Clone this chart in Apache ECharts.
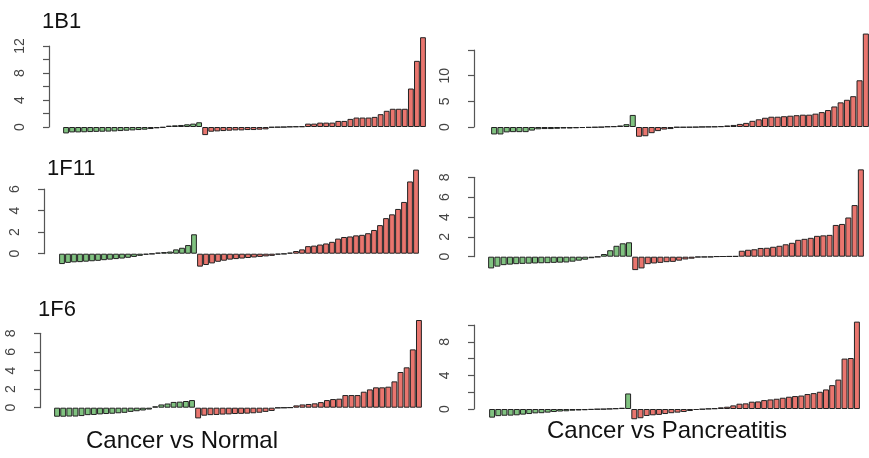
<!DOCTYPE html>
<html><head><meta charset="utf-8">
<script src="https://cdn.jsdelivr.net/npm/echarts@6/dist/echarts.min.js"></script>
<style>html,body{margin:0;padding:0;background:#fff}#c{width:869px;height:458px}</style>
</head><body><div id="c"></div>
<script>
// ---- data ----
const panelTitles = ['1B1', '1F11', '1F6'];
const comparisonLabels = ['Cancer vs Normal', 'Cancer vs Pancreatitis'];

// 1B1, Cancer vs Normal
const b1NormalGreen = [-0.95,-0.8,-0.8,-0.78,-0.75,-0.72,-0.7,-0.68,-0.65,-0.6,-0.55,-0.5,-0.45,-0.4,-0.3,-0.2,-0.1,0.2,0.25,0.3,0.4,0.5,0.7];
const b1NormalRed = [-1.2,-0.7,-0.65,-0.6,-0.55,-0.5,-0.5,-0.45,-0.45,-0.4,-0.35,-0.08,-0.05,-0.02,0.05,0.08,0.1,0.5,0.5,0.65,0.65,0.65,0.9,0.9,1.2,1.4,1.4,1.4,1.5,1.9,2.4,2.7,2.7,2.7,5.7,9.8,13.3];
// 1B1, Cancer vs Pancreatitis
const b1PancGreen = [-1.45,-1.45,-1.05,-1.0,-1.0,-1.0,-0.7,-0.45,-0.4,-0.4,-0.35,-0.3,-0.3,-0.25,-0.2,-0.15,-0.1,-0.05,0.1,0.15,0.3,0.55,2.35];
const b1PancRed = [-1.9,-1.8,-1.2,-0.8,-0.5,-0.4,-0.1,-0.1,-0.08,-0.05,0.02,0.05,0.08,0.15,0.3,0.4,0.6,0.8,1.2,1.5,1.8,2.0,2.0,2.1,2.2,2.3,2.4,2.4,2.6,2.9,3.3,4.0,4.8,5.3,6.0,9.1,18.2];
// 1F11, Cancer vs Normal
const f11NormalGreen = [-0.96,-0.85,-0.8,-0.78,-0.74,-0.7,-0.66,-0.6,-0.55,-0.5,-0.45,-0.38,-0.3,-0.2,-0.1,-0.03,0.1,0.15,0.2,0.4,0.55,0.8,1.8];
const f11NormalRed = [-1.2,-1.05,-0.9,-0.75,-0.65,-0.55,-0.5,-0.45,-0.4,-0.35,-0.3,-0.25,-0.2,-0.08,-0.03,0.1,0.25,0.4,0.7,0.75,0.85,0.95,1.1,1.4,1.55,1.6,1.7,1.75,1.9,2.2,2.65,3.3,3.65,4.15,4.8,6.7,7.8];
// 1F11, Cancer vs Pancreatitis
const f11PancGreen = [-1.18,-1.0,-0.85,-0.8,-0.75,-0.72,-0.7,-0.68,-0.66,-0.65,-0.62,-0.6,-0.58,-0.5,-0.4,-0.3,-0.15,-0.03,0.27,0.65,1.1,1.35,1.45];
const f11PancRed = [-1.35,-1.18,-0.75,-0.68,-0.62,-0.55,-0.52,-0.4,-0.28,-0.2,-0.06,-0.05,-0.04,0.03,0.04,0.05,0.06,0.6,0.7,0.75,0.88,0.9,1.0,1.1,1.25,1.4,1.7,1.8,1.9,2.1,2.15,2.2,3.2,3.3,3.95,5.2,8.8];
// 1F6, Cancer vs Normal
const f6NormalGreen = [-0.97,-0.97,-0.95,-0.95,-0.9,-0.8,-0.78,-0.72,-0.68,-0.65,-0.6,-0.55,-0.45,-0.38,-0.3,-0.2,0.15,0.35,0.45,0.62,0.65,0.72,0.82];
const f6NormalRed = [-1.15,-0.86,-0.8,-0.78,-0.74,-0.72,-0.68,-0.66,-0.64,-0.6,-0.54,-0.45,-0.35,-0.03,-0.01,0.02,0.25,0.35,0.4,0.47,0.6,0.82,0.93,0.97,1.36,1.36,1.36,1.72,1.97,2.19,2.19,2.26,2.83,3.84,4.34,6.27,9.43];
// 1F6, Cancer vs Pancreatitis
const f6PancGreen = [-1.03,-0.85,-0.8,-0.79,-0.75,-0.67,-0.6,-0.52,-0.5,-0.43,-0.36,-0.3,-0.27,-0.2,-0.18,-0.15,-0.1,-0.05,-0.03,0.02,0.08,0.15,1.85];
const f6PancRed = [-1.22,-1.1,-0.83,-0.75,-0.7,-0.6,-0.5,-0.43,-0.36,-0.24,-0.12,-0.05,0.03,0.08,0.2,0.27,0.43,0.63,0.67,0.87,0.9,1.06,1.14,1.22,1.34,1.46,1.54,1.6,1.78,1.89,2.05,2.33,2.84,3.5,6.0,6.07,10.4];

// y-axis tick labels shown per panel
const b1NormalLabels = [0, 4, 8, 12];
const b1PancLabels = [0, 5, 10];
const f11NormalLabels = [0, 2, 4, 6];
const f11PancLabels = [0, 2, 4, 6, 8];
const f6NormalLabels = [0, 2, 4, 6, 8];
const f6PancLabels = [0, 4, 8];

// ---- layout ----
const GREEN = '#80c280';
const RED = '#e9756e';
const panels = [
  {green: b1NormalGreen, red: b1NormalRed, labels: b1NormalLabels, max: 12, interval: 2, left: 63, top: 46, width: 363, height: 81, axisX: 49},
  {green: b1PancGreen, red: b1PancRed, labels: b1PancLabels, max: 15, interval: 5, left: 491, top: 50, width: 382, height: 77, axisX: 474},
  {green: f11NormalGreen, red: f11NormalRed, labels: f11NormalLabels, max: 6, interval: 2, left: 59, top: 189, width: 360, height: 64.7, axisX: 44},
  {green: f11PancGreen, red: f11PancRed, labels: f11PancLabels, max: 8, interval: 2, left: 488, top: 177.3, width: 376, height: 79.4, axisX: 474},
  {green: f6NormalGreen, red: f6NormalRed, labels: f6NormalLabels, max: 8, interval: 2, left: 54, top: 333.3, width: 368, height: 74.4, axisX: 40},
  {green: f6PancGreen, red: f6PancRed, labels: f6PancLabels, max: 10, interval: 2, left: 489, top: 325, width: 371, height: 84, axisX: 474}
];

const FONT = 'Liberation Sans, Arial, sans-serif';
const chart = echarts.init(document.getElementById('c'), null, {renderer: 'canvas'});

const grids = panels.map(p => ({left: p.left, top: p.top, width: p.width, height: p.height, containLabel: false}));
const xAxes = panels.map((p, i) => ({
  gridIndex: i, type: 'category', show: false,
  data: p.green.map((_, k) => 'N' + (k + 1)).concat(p.red.map((_, k) => 'C' + (k + 1)))
}));
const yAxes = panels.map((p, i) => ({
  gridIndex: i, type: 'value', min: 0, max: p.max, interval: p.interval,
  offset: p.left - p.axisX,
  splitLine: {show: false},
  axisLine: {show: true, lineStyle: {color: '#555', width: 1.2}},
  axisTick: {show: true, length: 6, lineStyle: {color: '#555', width: 1.2}},
  axisLabel: {
    rotate: 90, margin: 22, fontSize: 14, color: '#444', fontFamily: FONT,
    formatter: v => p.labels.indexOf(v) >= 0 ? String(v) : ''
  }
}));
const series = panels.map((p, i) => ({
  type: 'bar', xAxisIndex: i, yAxisIndex: i,
  data: p.green.concat(p.red),
  clip: false, silent: true,
  barCategoryGap: '4%',
  itemStyle: {
    color: params => params.dataIndex < p.green.length ? GREEN : RED,
    borderColor: '#222', borderWidth: 1
  }
}));

const titles = [
  {text: panelTitles[0], left: 42, top: 11},
  {text: panelTitles[1], left: 47, top: 158},
  {text: panelTitles[2], left: 38, top: 299},
  {text: comparisonLabels[0], left: 86, top: 429, size: 24},
  {text: comparisonLabels[1], left: 547, top: 419, size: 24}
].map(t => ({
  text: t.text, left: t.left, top: t.top, padding: 0,
  textStyle: {fontFamily: FONT, fontWeight: 'normal', fontSize: t.size || 22, color: '#111'}
}));

chart.setOption({
  animation: false,
  backgroundColor: '#fff',
  title: titles,
  grid: grids,
  xAxis: xAxes,
  yAxis: yAxes,
  series: series
});
</script>
</body></html>
